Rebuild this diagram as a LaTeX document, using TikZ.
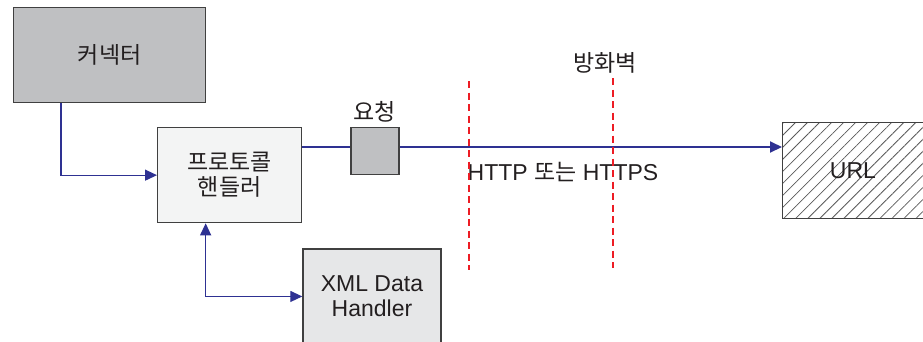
\documentclass[tikz,border=0pt]{standalone}
\usepackage{fontspec}
\setmainfont{Liberation Sans}
\newfontfamily\kr{Noto Sans CJK KR}
\usetikzlibrary{arrows.meta,positioning,calc,patterns.meta}

\definecolor{linkblue}{RGB}{46,49,146}
\definecolor{boxedge}{RGB}{64,64,64}
\definecolor{ink}{RGB}{35,31,32}
\definecolor{darkfill}{RGB}{191,192,194}
\definecolor{lightfill}{RGB}{243,244,244}
\definecolor{midfill}{RGB}{230,231,232}
\definecolor{wallred}{RGB}{237,28,36}

\tikzset{
  box/.style={draw=boxedge, line width=1.3pt, minimum width=144pt, minimum height=95pt,
    align=center, inner sep=0pt, text=ink, font=\fontsize{23}{25}\selectfont},
  tag/.style={text=ink, inner sep=0pt, font=\fontsize{23}{25}\selectfont},
  link/.style={draw=linkblue, line width=1.2pt, -{Triangle[length=12pt,width=11pt]}},
  wire/.style={draw=linkblue, line width=2pt},
  wall/.style={draw=wallred, line width=1.1pt, dash pattern=on 7pt off 4.5pt},
  hatched/.style={pattern={Lines[angle=45,distance=8.5pt,line width=0.8pt]}, pattern color=black!65}
}

\begin{document}
\begin{tikzpicture}[x=1pt, y=-1pt]
\useasboundingbox (0,0) rectangle (923,341);
\clip (0,0) rectangle (923,341);

% --- connector and protocol handler ---
\node[box, fill=darkfill, minimum width=192pt, anchor=north west] (conn) at (13,7) {\kr 커넥터};
\node[box, fill=lightfill, anchor=north west] (proto) at (157,127) {\kr 프로토콜\\\kr 핸들러};
\node[box, fill=midfill, minimum width=138pt, below=25pt of proto.south east, anchor=north west] (xml) {XML Data\\Handler};

% --- request box ---
\node[box, fill=darkfill, minimum width=48pt, minimum height=47pt, right=48pt of proto.north east, anchor=north west] (req) {};
\node[tag, above=5pt of req] (reqtext) {\kr 요청};

% --- connectors ---
\coordinate (connout) at ($(conn.south west)+(48pt,0)$);
\draw[link] (connout) |- (proto.west);
\coordinate (protoout) at ($(proto.north east)+(0,20)$);
\draw[wire] (protoout) -- (protoout -| req.west);
\coordinate (protodown) at ($(proto.south)+(-24,0)$);
\draw[link, {Triangle[length=12pt,width=11pt]}-{Triangle[length=12pt,width=11pt]}] (protodown) |- (xml.west);

\node[tag] (proto label) at (563,172) {HTTP {\kr 또는} HTTPS};

% --- target URL (hatched) ---
\node[box, hatched, minimum width=141pt, minimum height=96pt, anchor=north west] (url) at (782,122) {URL};
\draw[wire, -{Triangle[length=12pt,width=11pt]}] (protoout -| req.east) -- (protoout -| url.west);

% firewall walls
\coordinate (fw1top) at (469,81);
\coordinate (fw1bot) at (469,270);
\coordinate (fw2top) at (613,78);
\coordinate (fw2bot) at (613,268);
\draw[wall] (fw1top) -- (fw1bot);
\draw[wall] (fw2top) -- (fw2bot);
\node[tag] (fwtext) at (605,63) {\kr 방화벽};

\end{tikzpicture}
\end{document}
